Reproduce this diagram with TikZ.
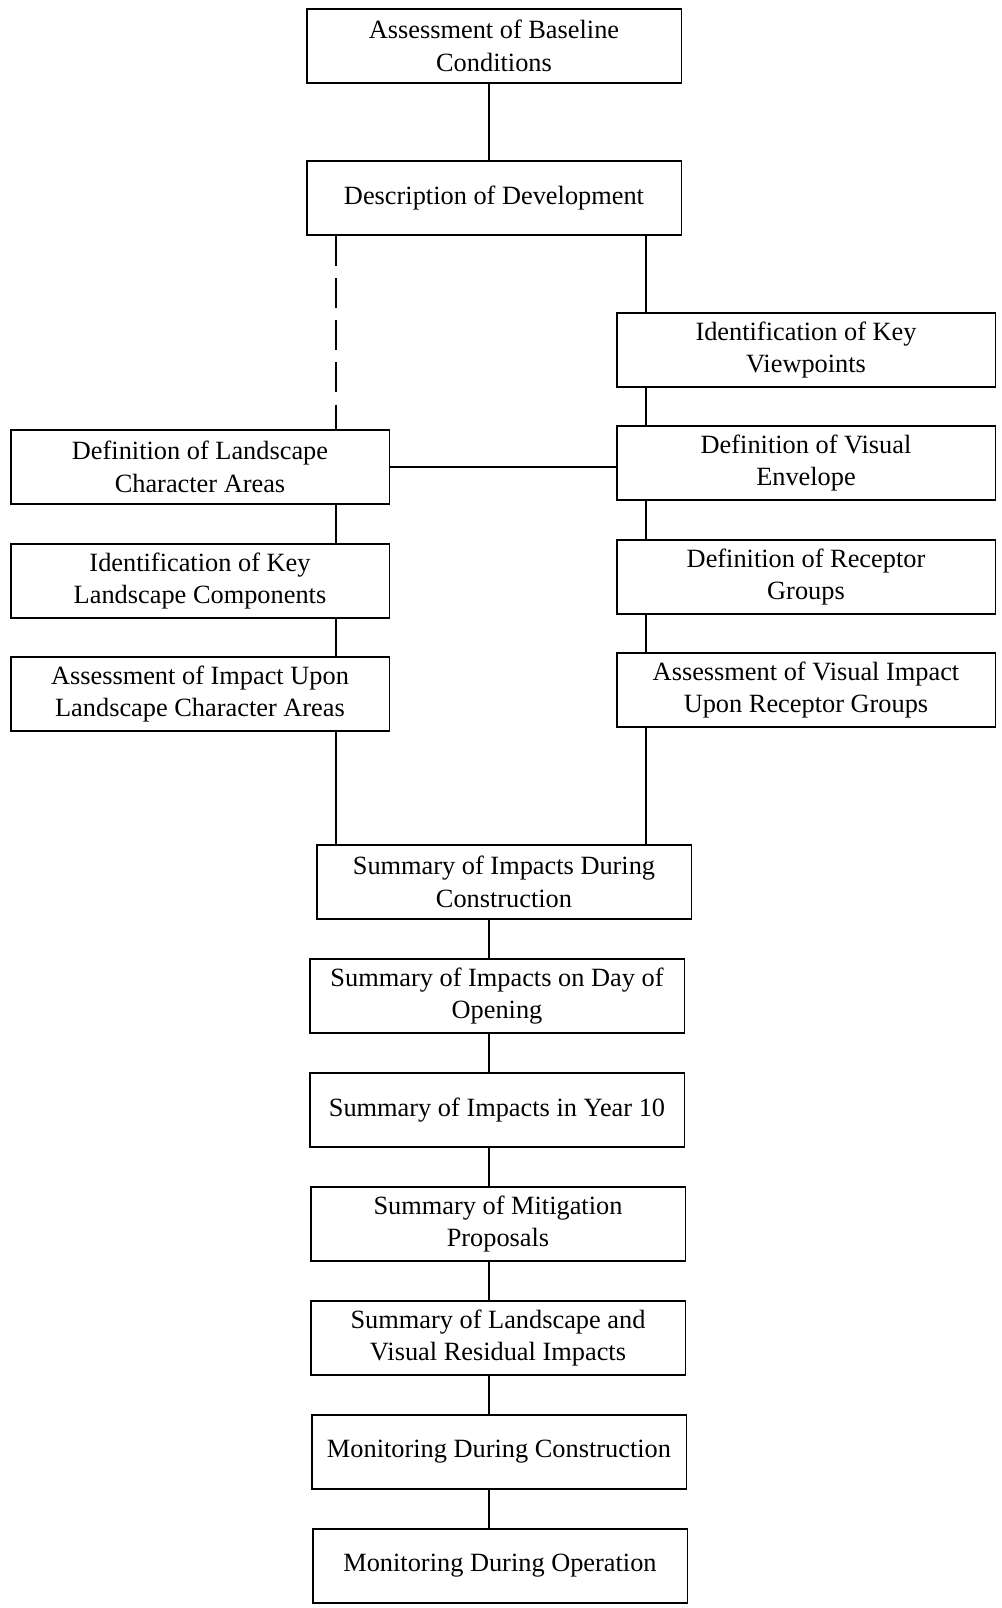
\documentclass[tikz,border=0pt]{standalone}
\usepackage{fontspec}
\setmainfont{Liberation Serif}
\tikzset{
  stagebox/.style={draw, line width=1.1pt, minimum width=7.5cm, minimum height=1.48cm,
    align=center, inner sep=2pt, font=\fontsize{15}{18.5}\selectfont},
  link/.style={line width=1.1pt},
  dashlink/.style={line width=1.1pt, dash pattern=on 17pt off 7pt}
}
\begin{document}
\begin{tikzpicture}[x=0.02cm,y=-0.02cm]
\useasboundingbox (0,0) rectangle (1001,1608);
% top of the chain
\node[stagebox] (base) at (494,46) {Assessment of Baseline\\Conditions};
\node[stagebox] (devel) at (494,198) {Description of Development};
% visual side
\node[stagebox, minimum width=7.58cm] (viewp) at (806,350) {Identification of Key\\Viewpoints};
\node[stagebox, minimum width=7.58cm] (envel) at (806,463) {Definition of Visual\\Envelope};
\node[stagebox, minimum width=7.58cm] (recept) at (806,577) {Definition of Receptor\\Groups};
\node[stagebox, minimum width=7.58cm] (impvis) at (806,690) {Assessment of Visual Impact\\Upon Receptor Groups};
% landscape side
\node[stagebox, minimum width=7.58cm] (lca) at (200,467) {Definition of Landscape\\Character Areas};
\node[stagebox, minimum width=7.58cm] (compon) at (200,581) {Identification of Key\\Landscape Components};
\node[stagebox, minimum width=7.58cm] (impland) at (200,694) {Assessment of Impact Upon\\Landscape Character Areas};
% summaries
\node[stagebox] (sumcon) at (504,882) {Summary of Impacts During\\Construction};
\node[stagebox] (sumday) at (497,996) {Summary of Impacts on Day of\\Opening};
\node[stagebox] (sumyr) at (497,1110) {Summary of Impacts in Year 10};
\node[stagebox] (summit) at (498,1224) {Summary of Mitigation\\Proposals};
\node[stagebox] (sumres) at (498,1338) {Summary of Landscape and\\Visual Residual Impacts};
\node[stagebox] (moncon) at (499,1452) {Monitoring During Construction};
\node[stagebox] (monop) at (500,1566) {Monitoring During Operation};
% columns of the connectors
\coordinate (lcol) at (336,0);
\coordinate (rcol) at (646,0);
\coordinate (mcol) at (489,0);
\draw[link] (base.south -| mcol) -- (devel.north -| mcol);
\draw[dashlink] (devel.south -| lcol) -- (lca.north -| lcol);
\draw[link] (devel.south -| rcol) -- (viewp.north -| rcol);
\draw[link] (viewp.south -| rcol) -- (envel.north -| rcol);
\draw[link] (envel.south -| rcol) -- (recept.north -| rcol);
\draw[link] (recept.south -| rcol) -- (impvis.north -| rcol);
\draw[link] (impvis.south -| rcol) -- (sumcon.north -| rcol);
\draw[link] (lca.east) -- (envel.west |- lca.east);
\draw[link] (lca.south -| lcol) -- (compon.north -| lcol);
\draw[link] (compon.south -| lcol) -- (impland.north -| lcol);
\draw[link] (impland.south -| lcol) -- (sumcon.north -| lcol);
\draw[link] (sumcon.south -| mcol) -- (sumday.north -| mcol);
\draw[link] (sumday.south -| mcol) -- (sumyr.north -| mcol);
\draw[link] (sumyr.south -| mcol) -- (summit.north -| mcol);
\draw[link] (summit.south -| mcol) -- (sumres.north -| mcol);
\draw[link] (sumres.south -| mcol) -- (moncon.north -| mcol);
\draw[link] (moncon.south -| mcol) -- (monop.north -| mcol);
\end{tikzpicture}
\end{document}
